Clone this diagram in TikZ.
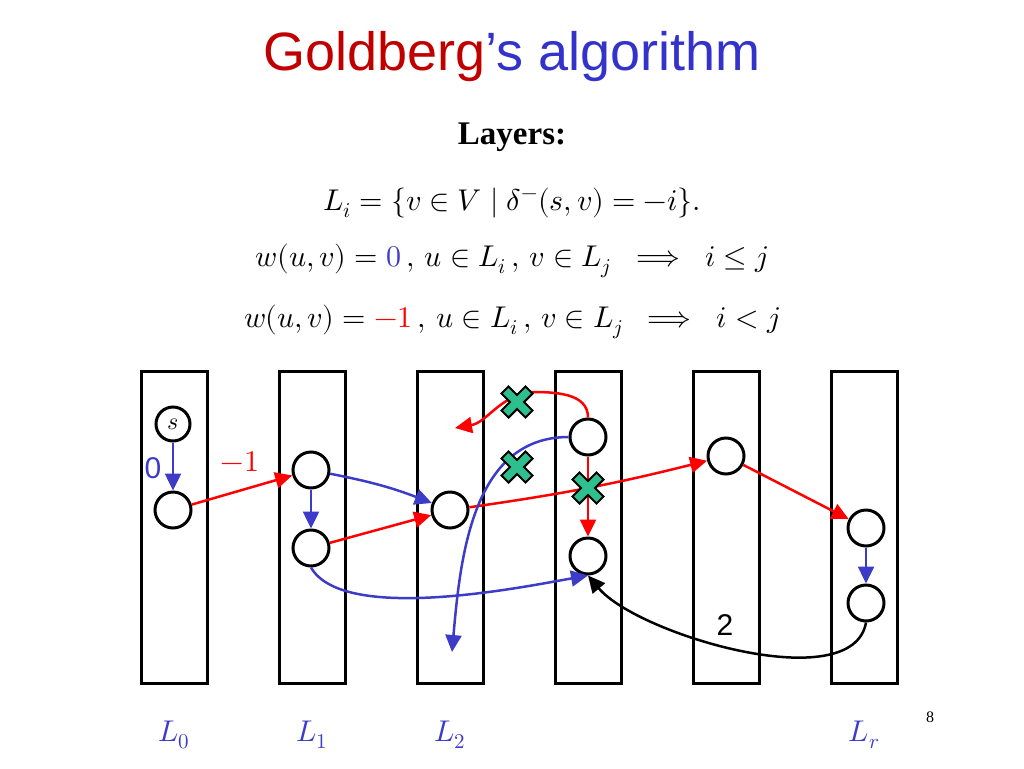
\documentclass[tikz,border=0pt]{standalone}
\usepackage{amsmath}
\usepackage{fontspec}
\usepackage{unicode-math}
\setsansfont{Liberation Sans}
\setmainfont{Liberation Serif}
\setmathfont{Latin Modern Math}
\usepackage{tikz}
\usetikzlibrary{arrows.meta, positioning}

\definecolor{gred}{HTML}{C00000}
\definecolor{gblue}{HTML}{3333CC}
\definecolor{lblue}{HTML}{3C3CC8}
\definecolor{xgreen}{HTML}{2DC08E}

\tikzset{
  layer/.style={draw, line width=3pt, minimum width=66pt, minimum height=312pt, anchor=north},
  vert/.style={draw, circle, line width=3pt, minimum size=36pt, inner sep=0pt},
  arr/.style={line width=2.5pt, -{Triangle[length=17pt,width=16pt]}},
  big/.style={font=\fontsize{30}{34}\selectfont},
}
\newcommand{\xmark}[1]{%
  \fill[xgreen, draw=black, line width=2pt, rotate around={45:#1}, shift={#1}]
    (-5,-17) -- (5,-17) -- (5,-5) -- (17,-5) -- (17,5) -- (5,5) -- (5,17)
    -- (-5,17) -- (-5,5) -- (-17,5) -- (-17,-5) -- (-5,-5) -- cycle;}

\begin{document}
\begin{tikzpicture}[x=1pt, y=-1pt]
        \useasboundingbox (0,0) rectangle (1024,768);

        % title
        \node (title) at (512,57) {\sffamily\fontsize{54}{60}\selectfont
          \textcolor{gred}{Goldberg}\textcolor{gblue}{'s algorithm}};
        \node (layers) at (512,137) {\fontsize{33}{38}\selectfont\textbf{Layers:}};
        \node[big] (def) at (512,203) {$L_i=\{v\in V\mid \delta^{-}(s,v)=-i\}.$};
        \node[big] (zero) at (512,261) {$w(u,v)=\textcolor{lblue}{0}\,,\,u\in L_i\,,\,v\in L_j\;\implies\; i\le j$};
        \node[big] (minus) at (512,322) {$w(u,v)=\textcolor{red}{-1}\,,\,u\in L_i\,,\,v\in L_j\;\implies\; i< j$};

        % layers
        \node[layer] (R0) at (174,370) {};
        \node[layer] (R1) at (312,370) {};
        \node[layer] (R2) at (450,370) {};
        \node[layer] (R3) at (588,370) {};
        \node[layer] (R4) at (726,370) {};
        \node[layer] (Rr) at (864,370) {};
        \node[big, text=lblue] (n0) at (174,735) {$L_0$};
        \node[big, text=lblue] (n1) at (312,735) {$L_1$};
        \node[big, text=lblue] (n2) at (450,735) {$L_2$};
        \node[big, text=lblue] (nr) at (864,735) {$L_r$};
        \node (page) at (930,717) {\fontsize{16}{18}\selectfont 8};

        % nodes
        \node[vert, minimum size=34pt, font=\fontsize{24}{26}\selectfont] (s) at (173,424) {$s$};
        \node[vert] (a) at (173,510) {};
        \node[vert] (b) at (311,470) {};
        \node[vert] (c) at (311,548) {};
        \node[vert] (d) at (450,510) {};
        \node[vert] (e) at (588,437) {};
        \node[vert] (f) at (588,556) {};
        \node[vert] (g) at (726,456) {};
        \node[vert] (h) at (866,528) {};
        \node[vert] (k) at (866,603) {};
        \coordinate (up) at (455,428);
        \coordinate (down) at (452,652);

        % edges
        \draw[arr, lblue] (s) -- (a);
        \node[big] (zl) at (153,468) {\sffamily\textcolor{lblue}{0}};
        \draw[arr, red] (a) -- (b);
        \node[big] (ml) at (240,462) {\textcolor{red}{$-1$}};
        \draw[arr, lblue] (b) -- (c);
        \draw[arr, lblue] (b) to[bend left=5] (d);
        \draw[arr, red] (c) -- (d);
        \draw[arr, lblue] (c.south) to[out=-60, in=190, looseness=0.6] (f.south);
        \draw[arr, red] (d) to[bend left=-3] (g);
        \draw[arr, red] (e) -- (f);
        \draw[arr, red] (e.north) to[out=90, in=0] (530,392) to[out=190, in=10] (up);
        \draw[arr, lblue] (e.west) to[out=180, in=85] (down);
        \draw[arr, red] (g) -- (h);
        \draw[arr, lblue] (h) -- (k);
        \draw[arr, black] (k.south) to[out=-100, in=-50, looseness=0.7] (f.south);
        \node[big] (two) at (725,625) {\sffamily 2};

        % crossed out
        \xmark{(517,402)}
        \xmark{(517,467)}
        \xmark{(588,488)}
    \end{tikzpicture}
\end{document}
